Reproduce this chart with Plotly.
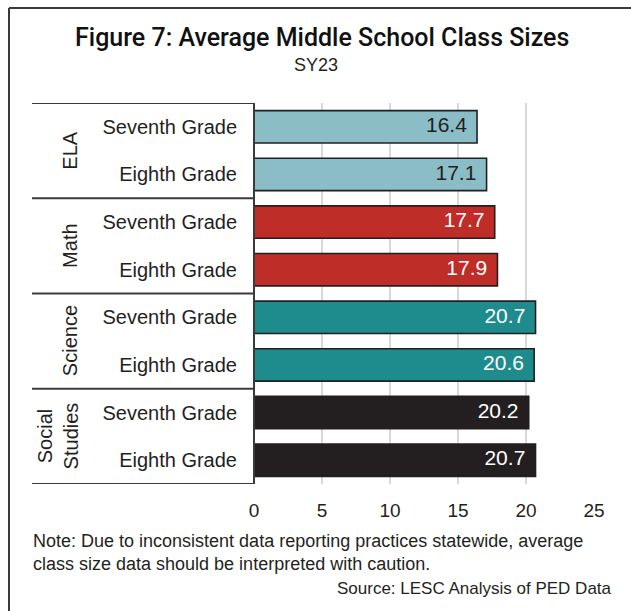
import plotly.graph_objects as go

# Average class size by subject and grade, SY23
subjects = ["ELA", "Math", "Science", "Social<br>Studies"]
grades = ["Seventh Grade", "Eighth Grade"]
class_sizes = [16.4, 17.1, 17.7, 17.9, 20.7, 20.6, 20.2, 20.7]
subject_colors = ["#8BBDC6", "#BE2D28", "#1E8C8D", "#231F20"]
label_colors = ["#231F20", "#FFFFFF", "#FFFFFF", "#FFFFFF"]
x_ticks = [0, 5, 10, 15, 20, 25]

W, H = 631, 611
ML, MR, MT, MB = 254, 37, 103, 127
PW, PH = W - ML - MR, H - MT - MB

def px_x(px):
    return (px - ML) / PW

def px_y(py):
    return (H - MB - py) / PH

rows = list(range(len(class_sizes)))
bar_colors = [subject_colors[i // 2] for i in rows]
text_colors = [label_colors[i // 2] for i in rows]
row_labels = [grades[i % 2] for i in rows]

TXT = "#231F20"
FONT = "Liberation Sans, Arial, sans-serif"
LABEL_INSET = 0.75  # value labels sit just inside the bar end

fig = go.Figure()
fig.add_trace(go.Bar(
    x=class_sizes,
    y=rows,
    orientation="h",
    width=0.68,
    marker=dict(color=bar_colors, line=dict(color="#231F20", width=1.6)),
    hoverinfo="x+y",
))
fig.add_trace(go.Scatter(
    x=[v - LABEL_INSET for v in class_sizes],
    y=rows,
    mode="text",
    text=[f"{v:.1f}" for v in class_sizes],
    textposition="middle left",
    textfont=dict(family=FONT, size=21, color=text_colors),
    hoverinfo="skip",
    cliponaxis=False,
))

fig.update_layout(
    width=W, height=H,
    margin=dict(l=ML, r=MR, t=MT, b=MB),
    paper_bgcolor="white", plot_bgcolor="white",
    showlegend=False,
    font=dict(family=FONT, color=TXT),
    xaxis=dict(
        range=[0, 25], tickvals=x_ticks, showgrid=True, gridcolor="#D9D9D9",
        gridwidth=2, zeroline=False, showline=False, ticks="",
        tickfont=dict(size=19, color=TXT), ticklabelstandoff=13,
    ),
    yaxis=dict(
        range=[len(rows) - 0.5, -0.5], tickvals=rows, ticktext=row_labels,
        showgrid=False, zeroline=False, showline=False, ticks="",
        tickfont=dict(size=20, color=TXT), ticklabelstandoff=16,
    ),
)

shapes = []
line = dict(color="#3A3A3A", width=2)
# outer frame (top and left edges)
shapes.append(dict(type="line", xref="paper", yref="paper",
                   x0=px_x(9), x1=px_x(W + 5), y0=px_y(8), y1=px_y(8), line=line))
shapes.append(dict(type="line", xref="paper", yref="paper",
                   x0=px_x(9), x1=px_x(9), y0=px_y(8), y1=px_y(H + 5), line=line))
# category table: horizontal separators between subject groups
for b in [-0.5, 1.5, 3.5, 5.5, 7.5]:
    shapes.append(dict(type="line", xref="paper", yref="y",
                       x0=px_x(32), x1=px_x(254), y0=b, y1=b, line=line))
# right edge of table
shapes.append(dict(type="line", xref="paper", yref="y",
                   x0=px_x(254), x1=px_x(254), y0=-0.5, y1=7.5, line=line))

annotations = []
for i, s in enumerate(subjects):
    annotations.append(dict(
        text=s, xref="paper", yref="y", x=px_x(70 if "<br>" not in s else 58),
        y=2 * i + 0.5, textangle=-90, showarrow=False,
        font=dict(size=20, color=TXT), xanchor="center", yanchor="middle",
    ))

annotations += [
    dict(text="Figure 7: Average Middle School Class Sizes", xref="paper", yref="paper",
         x=px_x(322), y=px_y(37), showarrow=False, xanchor="center", yanchor="middle",
         font=dict(family="Roboto, Arial", size=25, color="#111111", weight=500)),
    dict(text="SY23", xref="paper", yref="paper", x=px_x(316), y=px_y(65),
         showarrow=False, xanchor="center", yanchor="middle",
         font=dict(size=18, color=TXT)),
    dict(text="Note: Due to inconsistent data reporting practices statewide, average<br>"
              "class size data should be interpreted with caution.",
         xref="paper", yref="paper", x=px_x(31), y=px_y(552), showarrow=False,
         xanchor="left", yanchor="middle", align="left",
         font=dict(size=18, color=TXT)),
    dict(text="Source: LESC Analysis of PED Data", xref="paper", yref="paper",
         x=px_x(614), y=px_y(588), showarrow=False, xanchor="right", yanchor="middle",
         font=dict(size=17, color=TXT)),
]

fig.update_layout(shapes=shapes, annotations=annotations)
fig.write_html("out.html")
